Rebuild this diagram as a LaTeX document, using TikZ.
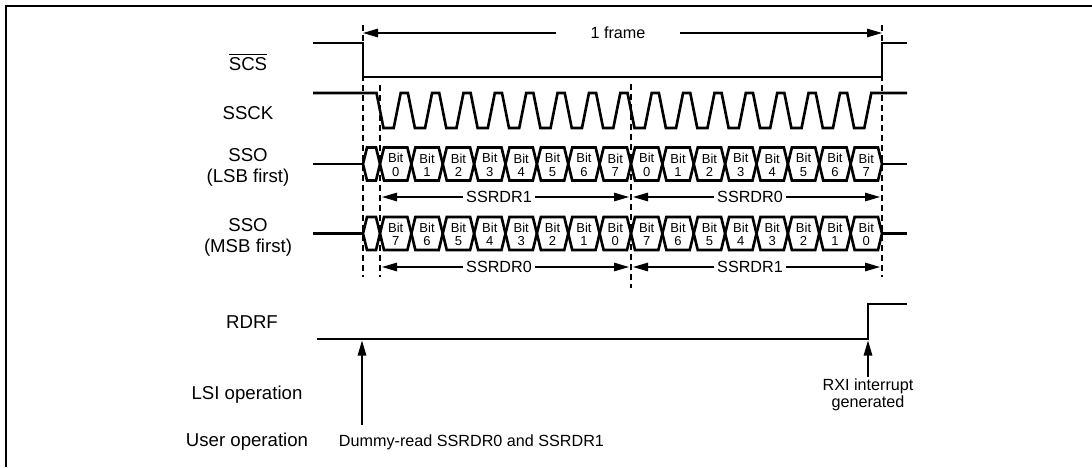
\documentclass[tikz,border=0pt]{standalone}
\usepackage{fontspec}
\setmainfont{Liberation Sans}
\usetikzlibrary{arrows.meta}

\newcommand{\bitw}{31.375}

\begin{document}
\begin{tikzpicture}[x=0.02cm, y=-0.02cm,
    sig/.style={line width=1.5pt, line join=miter},
    guide/.style={line width=0.7pt, dash pattern=on 3.4pt off 2.3pt},
    dim/.style={line width=0.7pt, -{Triangle[length=0.3cm,width=0.17cm]}},
    lbl/.style={font=\fontsize{10.6}{12}\selectfont, align=center, inner sep=1pt},
    anno/.style={font=\fontsize{9.2}{8}\selectfont, align=center, inner ysep=1pt, inner xsep=1.5pt},
    cell/.style={font=\fontsize{7.4}{7.6}\selectfont, align=center, inner sep=0pt}
  ]
  \useasboundingbox (0,0) rectangle (1092,467);
  \draw[line width=1.7pt] (6,467) -- (6,6) -- (1092,6);

  % signal names
  \node[lbl] (scsname) at (248,62) {$\overline{\mbox{SCS}}$};
  \node[lbl] (sckname) at (248,113) {SSCK};
  \node[lbl] (lsbname) at (248,167.5) {SSO\\(LSB first)};
  \node[lbl] (msbname) at (248,237.5) {SSO\\(MSB first)};
  \node[lbl] (rdrfname) at (252,322) {RDRF};
  \node[lbl] (lsiname) at (247,395) {LSI operation};
  \node[lbl] (username) at (247,442) {User operation};

  % guides
  \draw[guide] (363,25) -- (363,277);
  \draw[guide] (380,85) -- (380,277);
  \draw[guide] (631,84) -- (631,288);
  \draw[guide] (882,25) -- (882,277);

  % 1 frame
  \coordinate (fl) at (363,33);
  \coordinate (fr) at (882,33);
  \node[anno, inner xsep=0.69cm] (frame) at (618,33) {1 frame};
  \draw[dim] (frame) -- (fl);
  \draw[dim] (frame) -- (fr);

  % SCS
  \draw[sig] (313,43) -- (363,43) -- (363,77) -- (882,77) -- (882,43) -- (907,43);

  % SSCK
  \draw[sig] (313,93) -- (376.5,93) -- (383.5,128)
    \foreach \i in {0,...,14}{ -- ++(10.2,0) -- ++(7,-35) -- ++(7.175,0) -- ++(7,35) }
    -- ++(10.2,0) -- ++(7,-35) -- (907,93);

  % SSO rows
  \foreach \yc in {164,233.5}{
    \draw[sig] (313,\yc) -- (363,\yc);
    \draw[sig] (882,\yc) -- (907,\yc);
    \draw[sig] (363,\yc) -- (367,\yc-16.5) -- (376,\yc-16.5) -- (380,\yc)
      -- (376,\yc+16.5) -- (367,\yc+16.5) -- cycle;
  }
  \foreach \i in {0,...,15}{
    \pgfmathsetmacro{\a}{380+\i*\bitw}
    \pgfmathsetmacro{\c}{\a+\bitw}
    \pgfmathtruncatemacro{\lsb}{mod(\i,8)}
    \pgfmathtruncatemacro{\msb}{7-mod(\i,8)}
    \foreach \yc in {164,233.5}{
      \draw[sig] (\a,\yc) -- (\a+4,\yc-16.5) -- (\c-4,\yc-16.5) -- (\c,\yc)
        -- (\c-4,\yc+16.5) -- (\a+4,\yc+16.5) -- cycle;
    }
    \node[cell] (l\i) at (\a+\bitw/2,165) {Bit\\\lsb};
    \node[cell] (m\i) at (\a+\bitw/2,234.5) {Bit\\\msb};
  }

  % register spans
  \foreach \nm/\yy/\lt/\rt in {a/197/SSRDR1/SSRDR0, b/267/SSRDR0/SSRDR1}{
    \coordinate (\nm0) at (382,\yy);
    \coordinate (\nm1) at (629,\yy);
    \coordinate (\nm2) at (633,\yy);
    \coordinate (\nm3) at (880,\yy);
    \node[anno] (\nm L) at (499,\yy) {\lt};
    \node[anno] (\nm R) at (750,\yy) {\rt};
    \draw[dim] (\nm L) -- (\nm0);
    \draw[dim] (\nm L) -- (\nm1);
    \draw[dim] (\nm R) -- (\nm2);
    \draw[dim] (\nm R) -- (\nm3);
  }

  % RDRF
  \draw[sig] (317,339) -- (868,339) -- (868,304) -- (907,304);

  \coordinate (dfoot) at (362,425);
  \coordinate (dtip) at (362,340.5);
  \draw[dim] (dfoot) -- (dtip);
  \node[anno, anchor=west] (dummy) at (336,442) {Dummy-read SSRDR0 and SSRDR1};

  \coordinate (rtip) at (868,340.5);
  \node[anno] (rxi) at (868,395) {RXI interrupt\\generated};
  \draw[dim] (rxi) -- (rtip);
\end{tikzpicture}
\end{document}
